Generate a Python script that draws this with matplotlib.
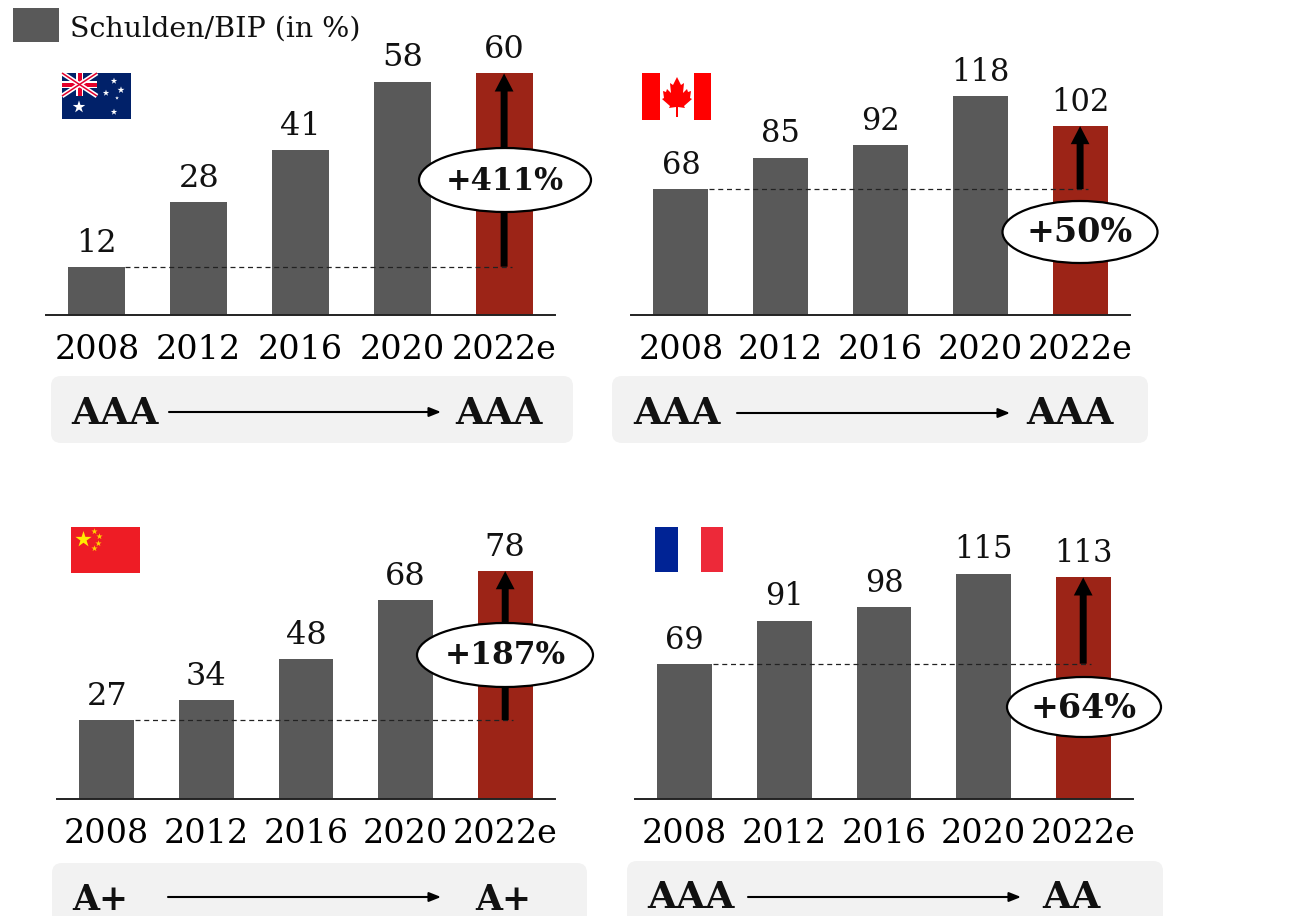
from matplotlib import pyplot as plt
from matplotlib.patches import Ellipse, FancyBboxPatch, Polygon, Rectangle

plt.rcParams["font.family"] = ["DejaVu Serif"]

years = ["2008", "2012", "2016", "2020", "2022e"]

# Schulden/BIP in percent
debt_au = [12, 28, 41, 58, 60]
debt_ca = [68, 85, 92, 118, 102]
debt_cn = [27, 34, 48, 68, 78]
debt_fr = [69, 91, 98, 115, 113]

change_labels = ["+411%", "+50%", "+187%", "+64%"]
change_sizes = [22, 24, 22.5, 24]
ratings_from = ["AAA", "AAA", "A+", "AAA"]
ratings_to = ["AAA", "AAA", "A+", "AA"]

W, H = 1291, 916
GREY = "#595959"
RED = "#9c2417"

fig = plt.figure(figsize=(W / 100, H / 100), dpi=100)


def make_axes(left, right, baseline, ymax):
    # axes are placed in pixels, 250 px tall above the baseline
    ax = fig.add_axes([left / W, 1 - baseline / H, (right - left) / W, 250 / H])
    ax.set_xlim(-0.5, 4.5)
    ax.set_ylim(0, ymax)
    ax.patch.set_alpha(0)
    for side in ["top", "left", "right"]:
        ax.spines[side].set_visible(False)
    ax.spines["bottom"].set_linewidth(1.4)
    ax.spines["bottom"].set_color("#222222")
    ax.set_yticks([])
    ax.set_xticks(range(5))
    ax.set_xticklabels(years, fontsize=24)
    ax.tick_params(axis="x", length=0, pad=14)
    return ax


def draw_bars(ax, values, width, label_size):
    colors = [GREY] * 4 + [RED]
    ax.bar(range(5), values, width=width, color=colors)
    for i, v in enumerate(values):
        ax.annotate(str(v), (i, v), xytext=(0, 17), textcoords="offset points",
                    ha="center", va="center", fontsize=label_size, color="#111111")
    # reference line from the first bar and growth arrow on the last one
    ax.plot([0.28, 4.08], [values[0], values[0]], color="#222222", lw=0.9,
            ls=(0, (4, 3)), zorder=3)
    ax.annotate("", xy=(4, values[4]), xytext=(4, values[0]), zorder=4,
                arrowprops=dict(arrowstyle="simple,head_length=1.3,head_width=1.35,tail_width=0.5",
                                mutation_scale=10, color="k", lw=0, shrinkA=0, shrinkB=0))


ax_au = make_axes(46, 555, 315, 62.1)
ax_ca = make_axes(631, 1130, 315, 135)
ax_cn = make_axes(57, 555, 799, 85.6)
ax_fr = make_axes(635, 1133, 799, 127.5)

draw_bars(ax_au, debt_au, 0.56, 23)
draw_bars(ax_ca, debt_ca, 0.55, 22)
draw_bars(ax_cn, debt_cn, 0.55, 23)
draw_bars(ax_fr, debt_fr, 0.55, 22)

# overlay in pixel coordinates for legend, flags, ellipses and rating strips
top = fig.add_axes([0, 0, 1, 1], zorder=5)
top.set_xlim(0, W)
top.set_ylim(H, 0)
top.axis("off")
top.patch.set_alpha(0)

top.add_patch(Rectangle((13, 8), 46, 34, color=GREY, lw=0))
top.text(70, 29, "Schulden/BIP (in %)", fontsize=20.5, va="center", color="#111111")

ellipses = [(505, 180, 172, 64), (1080, 232, 155, 62), (505, 655, 176, 64), (1084, 707, 154, 60)]
for (cx, cy, ew, eh), label, size in zip(ellipses, change_labels, change_sizes):
    top.add_patch(Ellipse((cx, cy), ew, eh, fc="white", ec="k", lw=1.6))
    top.text(cx, cy + 1, label, fontsize=size, fontweight="bold", ha="center", va="center", color="#111111")

strips = [(51, 376, 522, 67), (612, 376, 536, 67), (52, 863, 535, 70), (627, 861, 536, 70)]
rating_rows = [(115, 499, 413, 169, 441, 412), (677, 1070, 413, 737, 1010, 413),
               (100, 503, 900, 168, 441, 897), (691, 1071, 897, 748, 1021, 897)]
for i in range(4):
    x, y, sw, sh = strips[i]
    top.add_patch(FancyBboxPatch((x, y), sw, sh, boxstyle="round,pad=0,rounding_size=10",
                                 fc="#f2f2f2", ec="none", zorder=1))
    x_from, x_to, y_text, x0, x1, y_arrow = rating_rows[i]
    size = 25 if ratings_from[i] == "A+" else 27
    top.text(x_from, y_text, ratings_from[i], fontsize=size, fontweight="bold", ha="center",
             va="center", color="#111111", zorder=2)
    top.text(x_to, y_text, ratings_to[i], fontsize=size, fontweight="bold", ha="center",
             va="center", color="#111111", zorder=2)
    top.annotate("", xy=(x1, y_arrow), xytext=(x0, y_arrow), zorder=2,
                 arrowprops=dict(arrowstyle="-|>,head_length=0.7,head_width=0.28", color="k",
                                 lw=1.5, shrinkA=0, shrinkB=0))

# Australia
top.add_patch(Rectangle((62, 73), 69, 46, color="#012169", lw=0))
top.plot([62, 97], [73, 96], color="white", lw=3.4, solid_capstyle="butt")
top.plot([62, 97], [96, 73], color="white", lw=3.4, solid_capstyle="butt")
top.plot([62, 97], [73, 96], color="#e4002b", lw=1.1, solid_capstyle="butt")
top.plot([62, 97], [96, 73], color="#e4002b", lw=1.1, solid_capstyle="butt")
top.add_patch(Rectangle((62, 81), 35, 7, color="white", lw=0))
top.add_patch(Rectangle((76, 73), 7, 23, color="white", lw=0))
top.add_patch(Rectangle((62, 82.5), 35, 4, color="#e4002b", lw=0))
top.add_patch(Rectangle((77.5, 73), 4, 23, color="#e4002b", lw=0))
top.scatter([79, 114, 106, 121, 117, 114], [107, 81, 93, 90, 98, 112],
            s=[90, 24, 24, 28, 8, 24], marker="*", color="white", lw=0)

# Canada
top.add_patch(Rectangle((642, 73), 18, 47, color="#ff0000", lw=0))
top.add_patch(Rectangle((694, 73), 17, 47, color="#ff0000", lw=0))
leaf = [(677, 77), (681, 85), (684, 83), (683, 93), (687, 89), (688, 92), (691, 91), (690, 98),
        (692, 99), (684, 106), (685, 108), (678, 107), (678, 117), (676, 117), (676, 107),
        (669, 108), (670, 106), (662, 99), (664, 98), (663, 91), (666, 92), (667, 89), (671, 93),
        (670, 83), (673, 85)]
top.add_patch(Polygon(leaf, closed=True, color="#ff0000", lw=0))

# China
top.add_patch(Rectangle((71, 527), 69, 46, color="#ee1c25", lw=0))
top.scatter([83], [539], s=150, marker="*", color="#ffec00", lw=0)
top.scatter([94, 99, 98, 94], [531, 536, 543, 548], s=22, marker="*", color="#ffd400", lw=0)

# France
top.add_patch(Rectangle((655, 527), 23, 45, color="#002395", lw=0))
top.add_patch(Rectangle((701, 527), 22, 45, color="#ed2939", lw=0))

fig.savefig("out.png", dpi=100)
